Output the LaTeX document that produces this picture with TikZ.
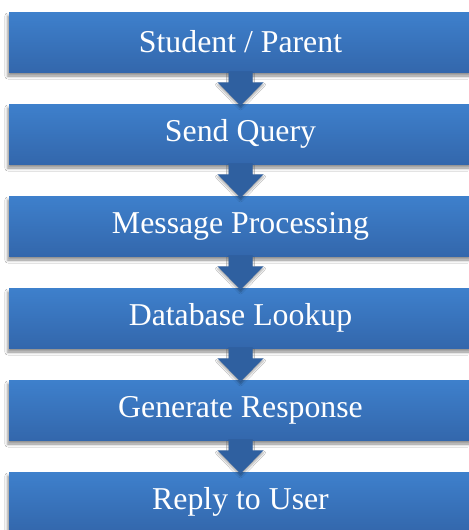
\documentclass[tikz,border=0pt]{standalone}
\usepackage{fontspec}
\setmainfont{Liberation Serif}
\usetikzlibrary{calc,shadows.blur}
\definecolor{boxtop}{RGB}{62,128,204}
\definecolor{boxbot}{RGB}{51,103,172}
\definecolor{arrowblue}{RGB}{47,96,160}
\tikzset{
  stage/.style={rectangle,minimum width=231.5pt,minimum height=30pt,inner sep=0pt,
    top color=boxtop,bottom color=boxbot,text=white,
    font=\fontsize{15.9}{18}\selectfont,
    blur shadow={shadow xshift=-0.6pt,shadow yshift=-2pt,shadow blur radius=1.5pt,shadow opacity=45}},
  flowarrow/.style={fill=arrowblue,
    blur shadow={shadow xshift=0pt,shadow yshift=-1.2pt,shadow blur radius=1pt,shadow opacity=35}}
}

\begin{document}
\begin{tikzpicture}[x=0.5pt,y=-0.5pt]
              \useasboundingbox (0,0) rectangle (468,530);
              \fill[white](0,0)rectangle(468,530);
              % stages
              \node[stage](s1)at(240.5,42){Student / Parent};
              \node[stage](s2)at(240.5,134){Send Query};
              \node[stage](s3)at(240.5,226){Message Processing};
              \node[stage](s4)at(240.5,318){Database Lookup};
              \node[stage](s5)at(240.5,410){Generate Response};
              \node[stage](s6)at(240.5,502){Reply to User};
              % block arrows between stages
              \foreach \a/\b in {s1/s2,s2/s3,s3/s4,s4/s5,s5/s6}
                \fill[flowarrow]($(\a.south)+(-12,-1)$)--($(\a.south)+(-12,10)$)--($(\a.south)+(-23,10)$)
                  --($(\b.north)+(0,2)$)--($(\a.south)+(23,10)$)--($(\a.south)+(12,10)$)
                  --($(\a.south)+(12,-1)$)--cycle;
            \end{tikzpicture}
\end{document}
